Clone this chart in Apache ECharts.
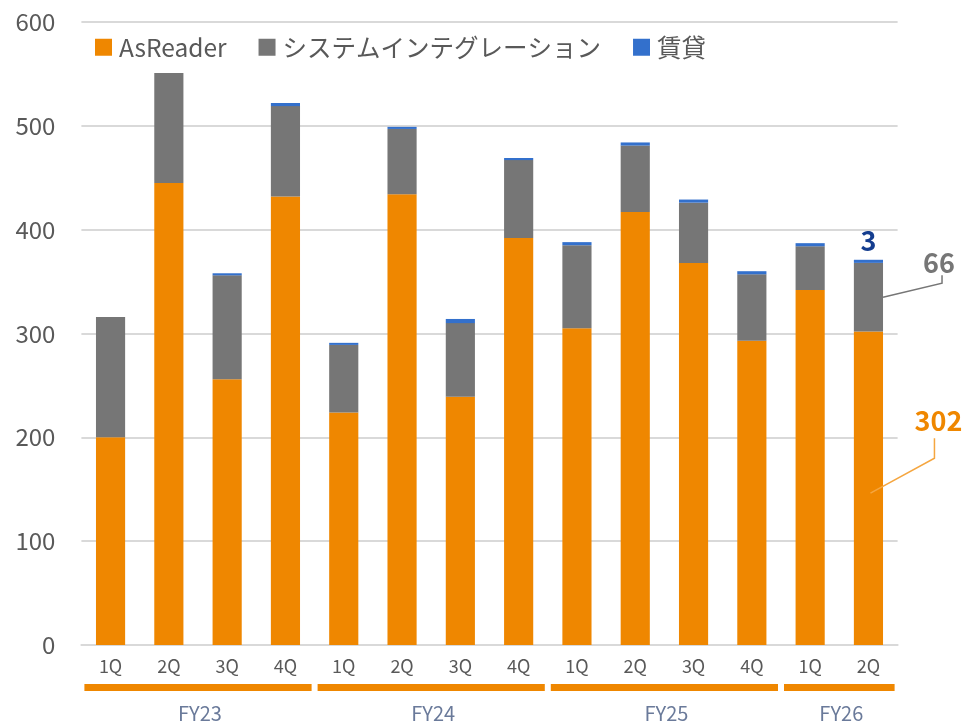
<!DOCTYPE html>
<html><head><meta charset="utf-8">
<script src="https://cdn.jsdelivr.net/npm/echarts@6/dist/echarts.min.js"></script>
<style>html,body{margin:0;padding:0;background:#fff}#c{width:966px;height:723px}</style>
</head><body><div id="c"></div>
<script>
const quarters = ['1Q','2Q','3Q','4Q','1Q','2Q','3Q','4Q','1Q','2Q','3Q','4Q','1Q','2Q'];
const fiscalYears = ['FY23','FY24','FY25','FY26'];
const quartersPerYear = [4,4,4,2];
const asReader = [200,445,256,432,224,434,239,392,305,417,368,293,342,302];
const systemIntegration = [116,106,100,87,65,63,71,75,80,64,58,64,42,66];
const rental = [0,0,2,3,2,2,4,2,3,3,3,3,3,3];
const seriesNames = ['AsReader','システムインテグレーション','賃貸'];
const yMin = 0, yMax = 600, yStep = 100;

const FONT = '"Noto Sans CJK JP", "Noto Sans", sans-serif';
const ORANGE = '#EF8700', GRAY = '#767676', BLUE = '#3370CC';

// fiscal-year groups built from counts
const fyData = [];
let startIdx = 0;
quartersPerYear.forEach(function(n){ fyData.push([startIdx, startIdx + n - 1, 0]); startIdx += n; });

const last = quarters.length - 1;
const annotData = [[last, asReader[last], systemIntegration[last], rental[last]]];

const chart = echarts.init(document.getElementById('c'), null, {renderer:'canvas'});
chart.setOption({
  animation: false,
  textStyle: {fontFamily: FONT},
  grid: {left: 81.4, right: 68.4, top: 22, bottom: 78, containLabel: false},
  legend: {
    data: seriesNames, left: 90, top: 30, icon: 'rect', itemWidth: 17, itemHeight: 17, itemGap: 32,
    textStyle: {fontSize: 24.5, color: '#595959', fontFamily: FONT, padding: [0,0,0,2]}
  },
  xAxis: {
    type: 'category', data: quarters,
    axisLine: {lineStyle: {color: '#d9d9d9', width: 2}},
    axisTick: {show: false},
    axisLabel: {fontSize: 18, color: '#595959', margin: 12, fontFamily: FONT}
  },
  yAxis: {
    type: 'value', min: yMin, max: yMax, interval: yStep,
    axisLine: {show: false}, axisTick: {show: false},
    splitLine: {lineStyle: {color: '#d9d9d9', width: 2}},
    axisLabel: {fontSize: 24, color: '#595959', margin: 26, fontFamily: FONT}
  },
  series: [
    {name: seriesNames[0], type: 'bar', stack: 't', barWidth: '50%', data: asReader, itemStyle: {color: ORANGE}},
    {name: seriesNames[1], type: 'bar', stack: 't', barWidth: '50%', data: systemIntegration, itemStyle: {color: GRAY}},
    {name: seriesNames[2], type: 'bar', stack: 't', barWidth: '50%', data: rental, itemStyle: {color: BLUE}},
    {
      type: 'custom', silent: true, clip: false, data: fyData, encode: {x: [0,1], y: 2}, z: 5,
      renderItem: function(params, api){
        const s = api.value(0), e = api.value(1);
        const half = api.size([1,0])[0] / 2;
        const base = api.coord([s, 0]);
        const x0 = base[0] - half + 3, x1 = api.coord([e, 0])[0] + half - 3;
        const y = base[1];
        return {type: 'group', children: [
          {type: 'rect', shape: {x: x0, y: y + 39, width: x1 - x0, height: 7}, style: {fill: ORANGE}},
          {type: 'text', style: {text: fiscalYears[params.dataIndex], x: (x0 + x1) / 2 + 2, y: y + 68,
            align: 'center', verticalAlign: 'middle', fontSize: 20, fontFamily: FONT, fill: '#6A7A9A'}}
        ]};
      }
    },
    {
      type: 'custom', silent: true, clip: false, data: annotData, encode: {x: 0, y: 1}, z: 6,
      renderItem: function(params, api){
        const i = api.value(0), a = api.value(1), s = api.value(2), r = api.value(3);
        const bw = api.size([1,0])[0] * 0.5;
        const x = api.coord([i, 0])[0];
        const yTop = api.coord([i, a + s + r])[1];
        const yS = api.coord([i, a + s / 2])[1];
        const yA = api.coord([i, a / 2])[1];
        const ax = x + bw / 2;
        return {type: 'group', children: [
          {type: 'text', style: {text: String(r), x: x, y: yTop - 19, align: 'center', verticalAlign: 'middle',
            fontSize: 27, fontWeight: 'bold', fontFamily: FONT, fill: '#143D8F'}},
          {type: 'polyline', shape: {points: [[ax, yS], [ax + 59, yS - 14], [ax + 59, yS - 22]]},
            style: {stroke: GRAY, lineWidth: 1.5, fill: null}},
          {type: 'text', style: {text: String(s), x: ax + 56, y: yS - 34, align: 'center', verticalAlign: 'middle',
            fontSize: 27, fontWeight: 'bold', fontFamily: FONT, fill: GRAY}},
          {type: 'polyline', shape: {points: [[x + 2, yA + 5], [x + 66, yA - 30], [x + 66, yA - 50]]},
            style: {stroke: '#F5A640', lineWidth: 1.5, fill: null}},
          {type: 'text', style: {text: String(a), x: x + 70, y: yA - 67, align: 'center', verticalAlign: 'middle',
            fontSize: 27, fontWeight: 'bold', fontFamily: FONT, fill: ORANGE}}
        ]};
      }
    }
  ]
});
</script></body></html>
